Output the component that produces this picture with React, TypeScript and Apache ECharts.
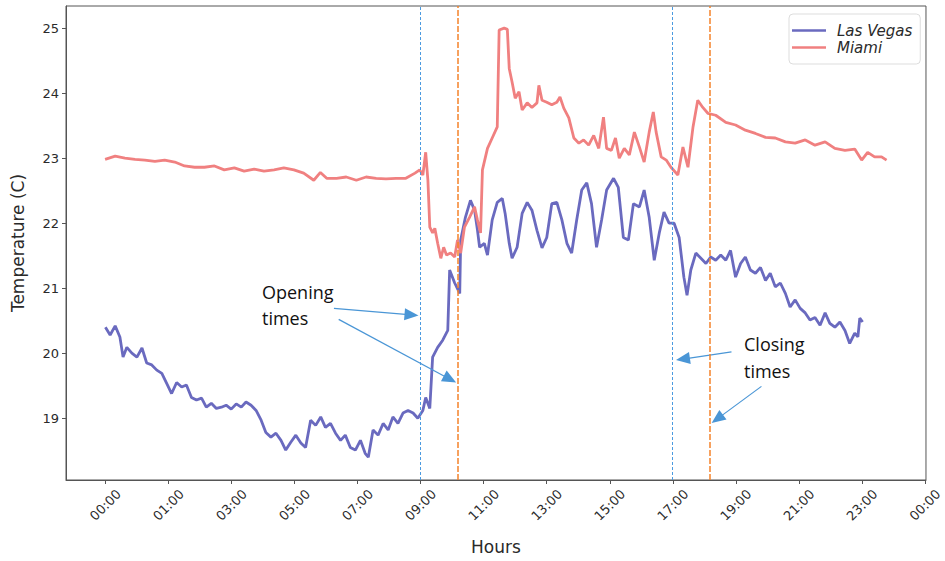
import React, { useEffect, useRef } from 'react';
import * as echarts from 'echarts';

// X axis: hours (tick positions and their printed labels)
const TICK_VALUES = [-1, 1, 3, 5, 7, 9, 11, 13, 15, 17, 19, 21, 23, 25];
const TICK_LABELS = ['00:00', '01:00', '03:00', '05:00', '07:00', '09:00', '11:00', '13:00', '15:00', '17:00', '19:00', '21:00', '23:00', '00:00'];
const Y_TICKS = [19, 20, 21, 22, 23, 24, 25];

// Las Vegas temperature (C)
const LV_HOURS = [-1.0, -0.85, -0.69, -0.54, -0.44, -0.32, -0.16, 0.0, 0.16, 0.31, 0.47, 0.63, 0.79, 0.94, 1.10, 1.26, 1.42, 1.57, 1.73, 1.89, 2.05, 2.20, 2.36, 2.52, 2.68, 2.83, 2.99, 3.15, 3.31, 3.46, 3.62, 3.78, 3.94, 4.09, 4.25, 4.41, 4.57, 4.72, 4.88, 5.04, 5.20, 5.35, 5.51, 5.67, 5.83, 5.98, 6.14, 6.30, 6.46, 6.61, 6.77, 6.93, 7.09, 7.24, 7.34, 7.49, 7.65, 7.81, 7.97, 8.12, 8.28, 8.44, 8.60, 8.76, 8.91, 9.07, 9.16, 9.29, 9.38, 9.54, 9.70, 9.86, 9.92, 10.08, 10.24, 10.27, 10.42, 10.58, 10.71, 10.80, 10.87, 11.02, 11.12, 11.27, 11.43, 11.59, 11.68, 11.81, 11.90, 12.06, 12.22, 12.38, 12.53, 12.69, 12.85, 13.00, 13.16, 13.32, 13.48, 13.64, 13.79, 13.95, 14.11, 14.27, 14.42, 14.58, 14.74, 14.90, 15.12, 15.27, 15.43, 15.59, 15.75, 15.94, 16.09, 16.25, 16.41, 16.57, 16.72, 16.88, 17.04, 17.20, 17.35, 17.45, 17.57, 17.73, 17.89, 18.05, 18.20, 18.36, 18.52, 18.68, 18.83, 18.99, 19.15, 19.30, 19.46, 19.62, 19.78, 19.94, 20.09, 20.25, 20.41, 20.57, 20.72, 20.88, 21.04, 21.20, 21.35, 21.51, 21.67, 21.83, 21.98, 22.14, 22.30, 22.46, 22.61, 22.77, 22.87, 22.93, 23.02];
const LV_TEMPS = [20.40, 20.28, 20.42, 20.25, 19.94, 20.09, 20.00, 19.94, 20.08, 19.85, 19.82, 19.74, 19.69, 19.54, 19.38, 19.55, 19.48, 19.51, 19.32, 19.28, 19.31, 19.17, 19.23, 19.15, 19.17, 19.20, 19.14, 19.22, 19.17, 19.25, 19.20, 19.12, 18.97, 18.78, 18.71, 18.77, 18.66, 18.51, 18.63, 18.74, 18.62, 18.55, 18.97, 18.89, 19.02, 18.86, 18.92, 18.77, 18.66, 18.74, 18.55, 18.51, 18.66, 18.46, 18.40, 18.82, 18.74, 18.92, 18.82, 19.02, 18.92, 19.08, 19.12, 19.08, 19.00, 19.12, 19.32, 19.15, 19.94, 20.09, 20.20, 20.35, 21.28, 21.08, 20.92, 21.74, 22.09, 22.35, 22.20, 21.90, 21.63, 21.69, 21.51, 22.05, 22.32, 22.38, 22.15, 21.69, 21.46, 21.63, 22.15, 22.32, 22.20, 21.89, 21.62, 21.78, 22.30, 22.32, 22.05, 21.69, 21.54, 22.05, 22.51, 22.62, 22.30, 21.63, 22.05, 22.51, 22.69, 22.55, 21.78, 21.74, 22.30, 22.25, 22.51, 22.09, 21.43, 21.85, 22.17, 22.00, 22.00, 21.78, 21.17, 20.89, 21.28, 21.54, 21.46, 21.38, 21.48, 21.43, 21.51, 21.43, 21.58, 21.17, 21.38, 21.48, 21.28, 21.23, 21.32, 21.12, 21.23, 21.02, 21.08, 20.92, 20.71, 20.82, 20.69, 20.62, 20.51, 20.55, 20.43, 20.62, 20.46, 20.40, 20.48, 20.35, 20.15, 20.31, 20.25, 20.54, 20.48];

// Miami temperature (C)
const MIA_HOURS = [-1.01, -0.69, -0.38, -0.06, 0.25, 0.57, 0.88, 1.20, 1.51, 1.83, 2.14, 2.46, 2.77, 3.09, 3.40, 3.72, 4.03, 4.35, 4.66, 4.98, 5.29, 5.61, 5.82, 6.02, 6.33, 6.64, 6.96, 7.27, 7.59, 7.90, 8.22, 8.53, 8.82, 8.97, 9.07, 9.16, 9.23, 9.29, 9.38, 9.45, 9.54, 9.64, 9.73, 9.82, 9.95, 10.08, 10.17, 10.27, 10.39, 10.55, 10.71, 10.80, 10.90, 10.96, 11.12, 11.27, 11.43, 11.49, 11.65, 11.75, 11.81, 11.90, 12.00, 12.12, 12.22, 12.38, 12.53, 12.69, 12.75, 12.85, 13.00, 13.16, 13.32, 13.42, 13.54, 13.70, 13.86, 14.02, 14.17, 14.33, 14.49, 14.65, 14.80, 14.90, 15.05, 15.18, 15.30, 15.46, 15.62, 15.78, 15.94, 16.09, 16.25, 16.38, 16.47, 16.63, 16.79, 16.94, 17.16, 17.32, 17.48, 17.64, 17.79, 17.95, 18.11, 18.36, 18.68, 18.99, 19.30, 19.62, 19.94, 20.25, 20.57, 20.88, 21.20, 21.51, 21.83, 22.14, 22.46, 22.77, 22.99, 23.18, 23.40, 23.62, 23.78];
const MIA_TEMPS = [22.98, 23.03, 23.00, 22.98, 22.97, 22.95, 22.97, 22.94, 22.88, 22.86, 22.86, 22.88, 22.82, 22.85, 22.80, 22.83, 22.80, 22.82, 22.85, 22.82, 22.77, 22.66, 22.78, 22.69, 22.69, 22.71, 22.66, 22.71, 22.69, 22.68, 22.69, 22.69, 22.77, 22.82, 22.74, 23.09, 22.66, 21.94, 21.85, 21.92, 21.69, 21.46, 21.63, 21.51, 21.54, 21.48, 21.74, 21.54, 21.94, 22.09, 22.25, 22.05, 21.85, 22.82, 23.15, 23.31, 23.48, 24.97, 25.00, 24.98, 24.38, 24.17, 23.92, 24.02, 23.74, 23.85, 23.78, 23.85, 24.12, 23.89, 23.86, 23.82, 23.86, 23.94, 23.77, 23.62, 23.31, 23.23, 23.28, 23.20, 23.35, 23.15, 23.63, 23.15, 23.12, 23.31, 23.00, 23.15, 23.05, 23.40, 23.17, 22.94, 23.40, 23.71, 23.40, 23.02, 22.97, 22.86, 22.74, 23.17, 22.86, 23.48, 23.89, 23.78, 23.69, 23.66, 23.55, 23.51, 23.43, 23.38, 23.32, 23.31, 23.25, 23.23, 23.28, 23.20, 23.25, 23.15, 23.12, 23.14, 22.97, 23.09, 23.02, 23.02, 22.97];

// Opening / closing times (hours)
const OPENING_TIMES = [9.0, 10.17];
const CLOSING_TIMES = [16.97, 18.17];

// Annotation arrows [fromHour, fromTemp, toHour, toTemp]
const OPENING_ARROWS = [
  [6.25, 20.69, 8.71, 20.59],
  [6.40, 20.52, 9.93, 19.60],
];
const CLOSING_ARROWS = [
  [18.86, 20.02, 17.32, 19.91],
  [19.81, 19.49, 18.41, 18.99],
];

const LV_COLOR = '#6a6abf';
const MIA_COLOR = '#f08080';
const BLUE_LINE = '#4a9ae0';
const ORANGE_LINE = '#f5822a';
const ARROW_COLOR = '#4a96d6';
const AXIS_COLOR = '#555';
const TEXT_COLOR = '#2a2a2a';
const FONT = 'DejaVu Sans';

function tickLabel(v: number): string {
  const i = TICK_VALUES.findIndex((t) => Math.abs(t - v) < 1e-6);
  return i >= 0 ? TICK_LABELS[i] : '';
}

function arrowItems(arrows: number[][]) {
  return arrows.map((a) => [
    { coord: [a[0], a[1]], symbol: 'none' },
    { coord: [a[2], a[3]], symbol: 'triangle', symbolSize: [12, 14] },
  ]);
}

export default function App() {
  const ref = useRef<HTMLDivElement>(null);
  useEffect(() => {
    document.body.style.margin = '0';
    const chart = echarts.init(ref.current!, null, { renderer: 'svg' });
    const lvData = LV_HOURS.map((h, i) => [h, LV_TEMPS[i]]);
    const miaData = MIA_HOURS.map((h, i) => [h, MIA_TEMPS[i]]);
    const option: any = {
      animation: false,
      backgroundColor: '#fff',
      grid: {
        left: 66,
        right: 15,
        top: 6,
        bottom: 81,
        show: true,
        borderColor: AXIS_COLOR,
        borderWidth: 1,
        containLabel: false,
      },
      legend: {
        data: ['Las Vegas', 'Miami'],
        orient: 'vertical',
        left: 789,
        top: 14,
        icon: 'rect',
        itemWidth: 34,
        itemHeight: 2.5,
        itemGap: 0,
        padding: [8, 8, 8, 3],
        borderColor: '#dddddd',
        borderWidth: 1,
        borderRadius: 4,
        backgroundColor: '#fff',
        textStyle: {
          fontSize: 15,
          fontStyle: 'italic',
          fontFamily: FONT,
          color: TEXT_COLOR,
          lineHeight: 17,
          padding: [0, 0, 0, 6],
        },
      },
      xAxis: {
        type: 'value',
        min: -2.25,
        max: 25.03,
        name: 'Hours',
        nameLocation: 'middle',
        nameGap: 58,
        nameTextStyle: { fontSize: 17, color: TEXT_COLOR, fontFamily: FONT },
        axisLine: { show: true, onZero: false, lineStyle: { color: AXIS_COLOR, width: 1 } },
        axisTick: { show: true, customValues: TICK_VALUES, length: 4, lineStyle: { color: AXIS_COLOR } },
        axisLabel: {
          customValues: TICK_VALUES,
          formatter: (v: number) => tickLabel(v),
          rotate: 45,
          align: 'center',
          verticalAlign: 'middle',
          margin: 25,
          fontSize: 13,
          color: TEXT_COLOR,
          fontFamily: FONT,
        },
        splitLine: { show: false },
      },
      yAxis: {
        type: 'value',
        min: 18.05,
        max: 25.34,
        name: 'Temperature (C)',
        nameLocation: 'middle',
        nameGap: 40,
        nameTextStyle: { fontSize: 17, color: TEXT_COLOR, fontFamily: FONT },
        axisLine: { show: true, onZero: false, lineStyle: { color: AXIS_COLOR, width: 1 } },
        axisTick: { show: true, customValues: Y_TICKS, length: 4, lineStyle: { color: AXIS_COLOR } },
        axisLabel: {
          customValues: Y_TICKS,
          margin: 7,
          fontSize: 13,
          color: TEXT_COLOR,
          fontFamily: FONT,
        },
        splitLine: { show: false },
      },
      series: [
        {
          name: 'Las Vegas',
          type: 'line',
          data: lvData,
          showSymbol: false,
          symbol: 'none',
          color: LV_COLOR,
          lineStyle: { color: LV_COLOR, width: 2.8 },
          z: 2,
          markLine: {
            silent: true,
            symbol: ['none', 'none'],
            label: { show: false },
            data: [
              ...[OPENING_TIMES[0], CLOSING_TIMES[0]].map((t) => ({
                xAxis: t,
                lineStyle: { color: BLUE_LINE, type: [3, 2], width: 1 },
              })),
              ...arrowItems([...OPENING_ARROWS, ...CLOSING_ARROWS]).map((pair) => [
                { ...pair[0], lineStyle: { color: ARROW_COLOR, type: 'solid', width: 1.2 }, itemStyle: { color: ARROW_COLOR } },
                { ...pair[1], itemStyle: { color: ARROW_COLOR } },
              ]),
            ],
          },
        },
        {
          name: 'Miami',
          type: 'line',
          data: miaData,
          showSymbol: false,
          symbol: 'none',
          color: MIA_COLOR,
          lineStyle: { color: MIA_COLOR, width: 2.8 },
          z: 3,
          markLine: {
            silent: true,
            symbol: ['none', 'none'],
            label: { show: false },
            data: [OPENING_TIMES[1], CLOSING_TIMES[1]].map((t) => ({
              xAxis: t,
              lineStyle: { color: ORANGE_LINE, type: [6, 2], width: 1.5 },
            })),
          },
        },
      ],
      graphic: [
        {
          type: 'text',
          left: 262,
          top: 279,
          style: {
            text: 'Opening\ntimes',
            fontSize: 18,
            lineHeight: 26,
            fontFamily: 'Open Sans',
            fill: '#111',
          },
        },
        {
          type: 'text',
          left: 744,
          top: 330,
          style: {
            text: 'Closing\ntimes',
            fontSize: 18,
            lineHeight: 27,
            fontFamily: 'Open Sans',
            fill: '#111',
          },
        },
      ],
    };
    chart.setOption(option);
    return () => chart.dispose();
  }, []);
  return <div ref={ref} style={{ width: 945, height: 561 }} />;
}
